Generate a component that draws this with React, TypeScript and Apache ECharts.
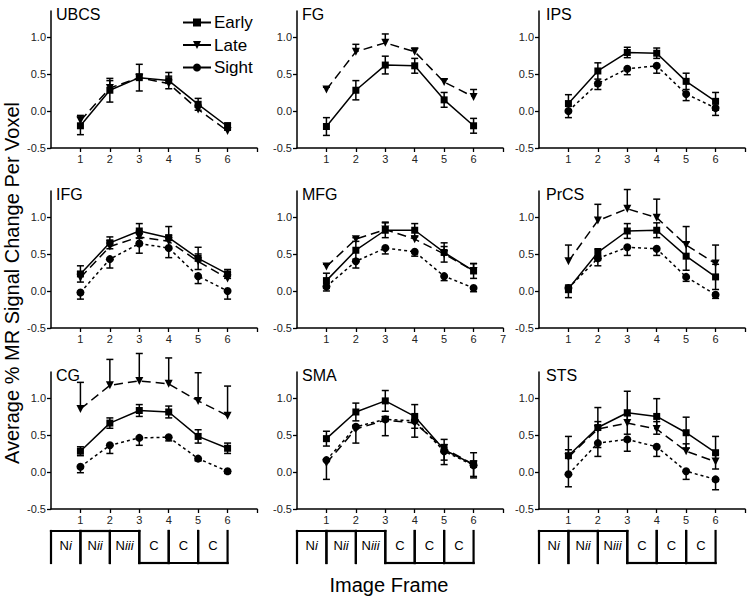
import { useEffect, useRef } from "react";
import * as echarts from "echarts";

const regions = ["UBCS", "FG", "IPS", "IFG", "MFG", "PrCS", "CG", "SMA", "STS"];
const frames = [1, 2, 3, 4, 5, 6];
const yTicks = [-0.5, 0, 0.5, 1.0];
const xTicks = [1, 2, 3, 4, 5, 6, 7];
const xLabelsDefault = [1, 2, 3, 4, 5, 6];
const xLabelsLong = [1, 2, 3, 4, 5, 6, 7];
const frameLabels = ["Ni", "Nii", "Niii", "C", "C", "C"];
const legendNames = ["Early", "Late", "Sight"];

// Early (filled squares, solid line): mean and symmetric error
const earlyMean: (number[] | null)[] = [
  [-0.2, 0.28, 0.45, 0.41, 0.09, -0.21],
  [-0.21, 0.28, 0.62, 0.61, 0.15, -0.2],
  [0.1, 0.54, 0.79, 0.78, 0.4, 0.13],
  [0.23, 0.65, 0.81, 0.72, 0.44, 0.23],
  [0.14, 0.55, 0.82, 0.82, 0.52, 0.27],
  [0.03, 0.52, 0.81, 0.82, 0.47, 0.19],
  [0.28, 0.66, 0.83, 0.81, 0.48, 0.32],
  [0.45, 0.81, 0.96, 0.75, 0.3, 0.1],
  [0.22, 0.6, 0.8, 0.75, 0.53, 0.26],
];
const earlyErr: (number[] | null)[] = [
  [0.12, 0.16, 0.18, 0.11, 0.08, 0.05],
  [0.12, 0.13, 0.12, 0.1, 0.1, 0.1],
  [0.12, 0.11, 0.07, 0.07, 0.11, 0.12],
  [0.11, 0.08, 0.1, 0.15, 0.15, 0.06],
  [0.1, 0.12, 0.1, 0.09, 0.13, 0.1],
  [0.05, 0.05, 0.1, 0.1, 0.19, 0.17],
  [0.06, 0.07, 0.08, 0.08, 0.09, 0.07],
  [0.1, 0.12, 0.14, 0.16, 0.14, 0.16],
  [0.26, 0.27, 0.29, 0.24, 0.21, 0.22],
];
// Late (filled down-triangles, long dashes): mean and upward error
const lateMean: (number[] | null)[] = [
  [-0.13, 0.31, 0.45, 0.37, 0.02, -0.27],
  [0.29, 0.8, 0.92, 0.8, 0.39, 0.19],
  null,
  [0.18, 0.6, 0.73, 0.67, 0.4, 0.17],
  [0.33, 0.7, 0.83, 0.7, 0.5, 0.27],
  [0.4, 0.95, 1.11, 0.99, 0.62, 0.37],
  [0.85, 1.17, 1.23, 1.19, 0.96, 0.76],
  [0.12, 0.58, 0.7, 0.66, 0.32, 0.1],
  [0.2, 0.58, 0.66, 0.58, 0.28, 0.14],
];
const lateErr: (number[] | null)[] = [
  [0.07, 0.1, 0.05, 0.1, 0.06, 0.04],
  [0.03, 0.1, 0.12, 0.05, 0.04, 0.1],
  null,
  [0.08, 0.08, 0.08, 0.08, 0.1, 0.08],
  [0.03, 0.02, 0.1, 0.04, 0.1, 0.1],
  [0.22, 0.22, 0.26, 0.25, 0.25, 0.25],
  [0.36, 0.35, 0.37, 0.35, 0.38, 0.4],
  [0.03, 0.05, 0.05, 0.04, 0.05, 0.05],
  [0.1, 0.1, 0.1, 0.1, 0.1, 0.1],
];
// Sight (filled circles, short dashes): mean and downward error
const sightMean: (number[] | null)[] = [
  null,
  null,
  [0.0, 0.37, 0.57, 0.61, 0.23, 0.04],
  [-0.02, 0.43, 0.64, 0.58, 0.2, 0.0],
  [0.06, 0.4, 0.58, 0.53, 0.2, 0.04],
  [0.04, 0.44, 0.59, 0.57, 0.19, -0.05],
  [0.07, 0.36, 0.46, 0.47, 0.18, 0.01],
  [0.16, 0.61, 0.71, 0.69, 0.28, 0.09],
  [-0.03, 0.39, 0.44, 0.34, 0.01, -0.1],
];
const sightErr: (number[] | null)[] = [
  null,
  null,
  [0.09, 0.08, 0.08, 0.1, 0.09, 0.1],
  [0.09, 0.12, 0.13, 0.13, 0.1, 0.11],
  [0.06, 0.09, 0.08, 0.06, 0.06, 0.05],
  [0.13, 0.1, 0.11, 0.09, 0.06, 0.05],
  [0.08, 0.11, 0.1, 0.05, 0.03, 0.03],
  [0.26, 0.22, 0.22, 0.22, 0.18, 0.17],
  [0.17, 0.18, 0.16, 0.13, 0.11, 0.14],
];

const FONT = "'Liberation Sans', Arial, Helvetica, sans-serif";
const colLeft = [51, 297, 539];
const rowTop = [11, 191, 372];
const GW = 206;
const GH = 137;

function errRender(params: any, api: any) {
  const x = api.value(0);
  const lo = api.value(1);
  const hi = api.value(2);
  const capLo = api.value(3);
  const capHi = api.value(4);
  const pLo = api.coord([x, lo]);
  const pHi = api.coord([x, hi]);
  const c = 3.5;
  const st = { stroke: "#000", lineWidth: 1.5 };
  const children: any[] = [
    { type: "line", shape: { x1: pLo[0], y1: pLo[1], x2: pHi[0], y2: pHi[1] }, style: st },
  ];
  if (capLo) children.push({ type: "line", shape: { x1: pLo[0] - c, y1: pLo[1], x2: pLo[0] + c, y2: pLo[1] }, style: st });
  if (capHi) children.push({ type: "line", shape: { x1: pHi[0] - c, y1: pHi[1], x2: pHi[0] + c, y2: pHi[1] }, style: st });
  return { type: "group", children };
}

function boxRender(params: any, api: any) {
  const idx = params.dataIndex;
  const a = api.coord([api.value(0), -0.5]);
  const b = api.coord([api.value(1), -0.5]);
  const base = a[1];
  const top = base + 22;
  const bot = base + 54;
  const lab = frameLabels[idx];
  const isN = lab.charAt(0) === "N";
  const hy = isN ? top : bot;
  const st = { stroke: "#000", lineWidth: 2.2, lineCap: "square" };
  const text = isN ? `{n|N}{i|${lab.slice(1)}}` : `{n|${lab}}`;
  return {
    type: "group",
    children: [
      { type: "line", shape: { x1: a[0], y1: top, x2: a[0], y2: bot }, style: st },
      { type: "line", shape: { x1: b[0], y1: top, x2: b[0], y2: bot }, style: st },
      { type: "line", shape: { x1: a[0], y1: hy, x2: b[0], y2: hy }, style: st },
      {
        type: "text",
        x: (a[0] + b[0]) / 2,
        y: base + 36,
        style: {
          text,
          align: "center",
          verticalAlign: "middle",
          fill: "#000",
          fontSize: 13,
          fontFamily: FONT,
          rich: {
            n: { fontSize: 13, fontFamily: FONT, fill: "#000" },
            i: { fontSize: 13, fontFamily: FONT, fontStyle: "italic", fill: "#000" },
          },
        },
      },
    ],
  };
}

export default function App() {
  const ref = useRef<HTMLDivElement>(null);
  useEffect(() => {
    if (!ref.current) return;
    const chart = echarts.init(ref.current, null, { renderer: "svg" });

    const grid = regions.map((_, i) => ({
      left: colLeft[i % 3],
      top: rowTop[Math.floor(i / 3)],
      width: GW,
      height: GH,
      containLabel: false,
    }));
    const axisLine = { lineStyle: { color: "#000", width: 1.5 } };
    const xAxis = regions.map((r, i) => ({
      type: "value",
      gridIndex: i,
      min: 0,
      max: 7,
      interval: 1,
      axisLine: { ...axisLine, onZero: false },
      axisTick: { length: 4, customValues: xTicks, lineStyle: { color: "#000", width: 1.3 } },
      axisLabel: {
        customValues: r === "MFG" ? xLabelsLong : xLabelsDefault,
        fontSize: 11,
        color: "#222",
        fontFamily: FONT,
        margin: 5,
      },
      splitLine: { show: false },
    }));
    const yAxis = regions.map((_, i) => ({
      type: "value",
      gridIndex: i,
      min: -0.5,
      max: 1.35,
      interval: 0.5,
      axisLine: { ...axisLine, show: true },
      axisTick: { show: true, length: 4, customValues: yTicks, lineStyle: { color: "#000", width: 1.3 } },
      axisLabel: {
        customValues: yTicks,
        formatter: (v: number) => v.toFixed(1),
        fontSize: 11,
        color: "#222",
        fontFamily: FONT,
        margin: 5,
      },
      splitLine: { show: false },
    }));

    const series: any[] = [];
    regions.forEach((_, i) => {
      const defs = [
        { name: "Early", mean: earlyMean[i], err: earlyErr[i], symbol: "rect", size: 7, rot: 0, dash: "solid", dir: 0 },
        { name: "Late", mean: lateMean[i], err: lateErr[i], symbol: "triangle", size: 8, rot: 180, dash: [9, 5], dir: 1 },
        { name: "Sight", mean: sightMean[i], err: sightErr[i], symbol: "circle", size: 8, rot: 0, dash: [3, 3], dir: -1 },
      ];
      defs.forEach((d) => {
        if (!d.mean || !d.err) return;
        const m = d.mean;
        const e = d.err;
        series.push({
          type: "custom",
          name: d.name + " error",
          xAxisIndex: i,
          yAxisIndex: i,
          clip: false,
          z: 2,
          silent: true,
          renderItem: errRender,
          data: frames.map((f, k) => {
            if (d.dir === 0) return [f, m[k] - e[k], m[k] + e[k], 1, 1];
            if (d.dir === 1) return [f, m[k], m[k] + e[k], 0, 1];
            return [f, m[k] - e[k], m[k], 1, 0];
          }),
        });
        series.push({
          type: "line",
          name: d.name,
          xAxisIndex: i,
          yAxisIndex: i,
          z: 3,
          symbol: d.symbol,
          symbolSize: d.size,
          symbolRotate: d.rot,
          showSymbol: true,
          lineStyle: { color: "#000", width: 1.5, type: d.dash },
          itemStyle: { color: "#000", borderWidth: 0 },
          data: frames.map((f, k) => [f, m[k]]),
        });
      });
    });
    [6, 7, 8].forEach((gi) => {
      series.push({
        type: "custom",
        name: "frames",
        xAxisIndex: gi,
        yAxisIndex: gi,
        clip: false,
        silent: true,
        renderItem: boxRender,
        data: frames.map((f) => [f - 1, f]),
      });
    });

    const graphic: any[] = regions.map((r, i) => ({
      type: "text",
      x: colLeft[i % 3] + (i % 3 === 2 ? 7 : 5),
      y: rowTop[Math.floor(i / 3)] + 3,
      style: { text: r, fontSize: 16, fontFamily: FONT, fill: "#000", verticalAlign: "middle", align: "left" },
    }));
    graphic.push({
      type: "text",
      x: 12,
      y: 283,
      rotation: Math.PI / 2,
      style: {
        text: "Average % MR Signal Change Per Voxel",
        fontSize: 20,
        fontFamily: FONT,
        fill: "#000",
        align: "center",
        verticalAlign: "middle",
      },
    });
    graphic.push({
      type: "text",
      x: 389,
      y: 585,
      style: { text: "Image Frame", fontSize: 20, fontFamily: FONT, fill: "#000", align: "center", verticalAlign: "middle" },
    });

    chart.setOption({
      animation: false,
      backgroundColor: "#fff",
      grid,
      xAxis,
      yAxis,
      series,
      graphic,
      legend: {
        data: legendNames,
        orient: "vertical",
        left: 182,
        top: 14,
        padding: 0,
        itemWidth: 28,
        itemHeight: 10,
        itemGap: 5.5,
        itemStyle: { color: "#000" },
        lineStyle: { type: "solid", width: 2, color: "#000" },
        textStyle: { fontSize: 17, fontFamily: FONT, color: "#000", padding: [0, 0, 0, -2] },
        selectedMode: false,
      },
    });
    return () => chart.dispose();
  }, []);
  return (
    <div
      ref={ref}
      style={{ position: "absolute", left: 0, top: 0, width: 750, height: 599, background: "#fff" }}
    />
  );
}
